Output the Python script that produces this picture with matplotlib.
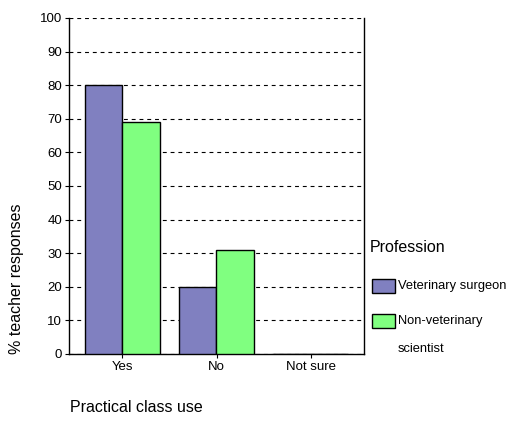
import matplotlib
matplotlib.use("Agg")
import matplotlib.pyplot as plt
from matplotlib.patches import Rectangle
import numpy as np

categories = ["Yes", "No", "Not sure"]
vet_surgeon = [80, 20, 0]
non_vet_scientist = [69, 31, 0]
series_labels = ["Veterinary surgeon", "Non-veterinary\nscientist"]
yticks = [0, 10, 20, 30, 40, 50, 60, 70, 80, 90, 100]

plt.rcParams['font.family'] = ['Liberation Sans', 'DejaVu Sans']

W, H = 511, 421
fig = plt.figure(figsize=(W / 100, H / 100), dpi=100)
ax = fig.add_axes([69 / W, 67 / H, 295 / W, 336 / H])

c1 = "#8080C0"
c2 = "#80FF80"
x = np.arange(len(categories))
bw = 0.4
ax.bar(x - bw / 2, vet_surgeon, width=bw, color=c1, edgecolor="black", linewidth=1, zorder=3)
ax.bar(x + bw / 2, non_vet_scientist, width=bw, color=c2, edgecolor="black", linewidth=1, zorder=3)

ax.set_xlim(-0.565, 2.565)
ax.set_ylim(0, 100)
ax.set_yticks(yticks)
ax.set_xticks(x)
ax.set_xticklabels(categories)
ax.tick_params(axis="both", labelsize=9.5, length=3, width=0.8, colors="black", pad=2)
ax.yaxis.grid(True, color="black", linestyle=(0, (3.5, 3.5)), linewidth=0.8, zorder=0)
ax.set_axisbelow(True)
ax.spines["top"].set_visible(False)
for s in ["left", "bottom", "right"]:
    ax.spines[s].set_linewidth(1)
    ax.spines[s].set_color("black")

# axis labels
fig.text(17 / W, 1 - 279 / H, "% teacher responses", rotation=90, ha="center", va="center", fontsize=11.5)
fig.text(70 / W, 1 - 407 / H, "Practical class use", ha="left", va="center", fontsize=11.5)

# legend (drawn manually)
fig.text(370 / W, 1 - 248 / H, "Profession", ha="left", va="center", fontsize=11.5)
handles_y = [286, 321]
colors = [c1, c2]
for hy, col, lab in zip(handles_y, colors, series_labels):
    fig.add_artist(Rectangle((372 / W, 1 - (hy + 7) / H), 23 / W, 14 / H,
                             facecolor=col, edgecolor="black", linewidth=1,
                             transform=fig.transFigure))
    lines = lab.split("\n")
    for i, ln in enumerate(lines):
        fig.text(398 / W, 1 - (hy + i * 28) / H, ln, ha="left", va="center", fontsize=9.3)

fig.savefig("out.png", dpi=100)
